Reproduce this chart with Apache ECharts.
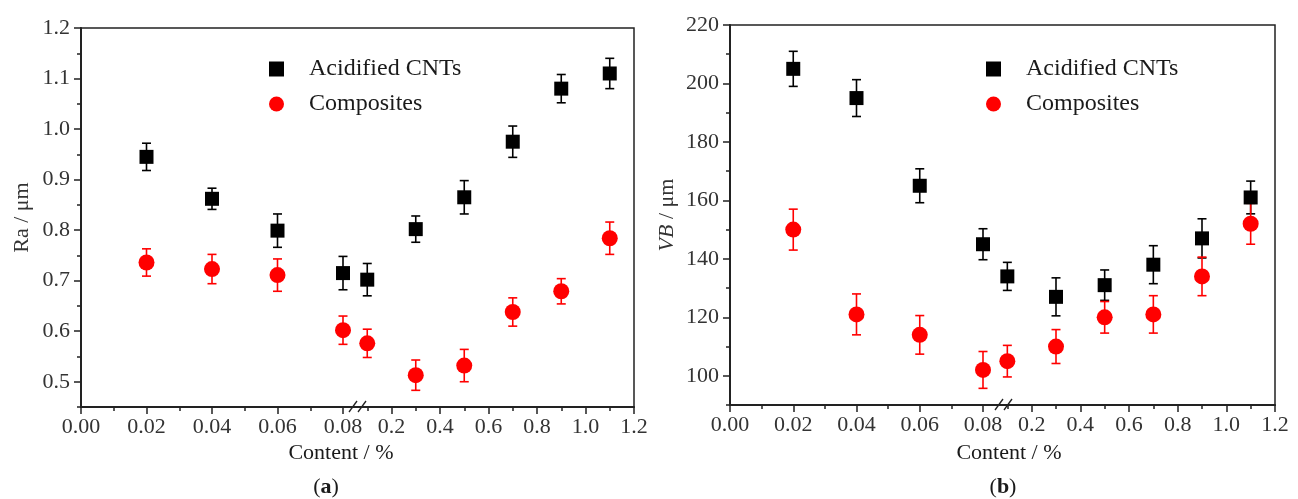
<!DOCTYPE html>
<html>
<head>
<meta charset="utf-8">
<title>Ra and VB vs content</title>
<script src="https://cdn.jsdelivr.net/npm/echarts@6/dist/echarts.min.js"></script>
<style>
    html, body { margin: 0; padding: 0; background: #fff; }
    #chart { width: 1298px; height: 499px; }
</style>
</head>
<body>
<div id="chart"></div>
<script>
// content in %, the axis is broken after 0.08
const content = [0.02, 0.04, 0.06, 0.08, 0.1, 0.3, 0.5, 0.7, 0.9, 1.1]

// (a) surface roughness Ra / um
const raCnt = [0.945, 0.862, 0.799, 0.715, 0.702, 0.802, 0.865, 0.975, 1.080, 1.110]
const raCntErr = [0.027, 0.021, 0.033, 0.033, 0.032, 0.026, 0.033, 0.031, 0.028, 0.030]
const raComp = [0.736, 0.723, 0.711, 0.602, 0.576, 0.513, 0.532, 0.638, 0.679, 0.784]
const raCompErr = [0.027, 0.029, 0.032, 0.028, 0.028, 0.030, 0.032, 0.028, 0.025, 0.032]

// (b) flank wear VB / um
const vbCnt = [205, 195, 165, 145, 134, 127, 131, 138, 147, 161]
const vbCntErr = [6, 6.3, 5.8, 5.3, 4.8, 6.5, 5.2, 6.5, 6.7, 5.6]
const vbComp = [150, 121, 114, 102, 105, 110, 120, 121, 134, 152]
const vbCompErr = [7, 7, 6.6, 6.3, 5.4, 5.8, 5.4, 6.4, 6.6, 7]

// tick labels
const raTicks = [0.5, 0.6, 0.7, 0.8, 0.9, 1.0, 1.1, 1.2]
const raMinor = [0.45, 0.55, 0.65, 0.75, 0.85, 0.95, 1.05, 1.15]
const vbTicks = [100, 120, 140, 160, 180, 200, 220]
const vbMinor = [90, 110, 130, 150, 170, 190, 210]

const seriesNames = ['Acidified CNTs', 'Composites']
const FONT = 'Liberation Serif'
const AXIS_COLOR = '#222'
const LABEL_COLOR = '#333'
const BREAK_X = 0.08

// pixel layout of the two panels
const panelA = { left: 81, seam: 343, right: 634, top: 28, bottom: 407, breakOff: 6 }
const panelB = { left: 730, seam: 983, right: 1275, top: 25, bottom: 405, breakOff: 12 }
const H = 499, W = 1298

const chart = echarts.init(document.getElementById('chart'))

function pairs(values, errs, low) {
    const out = []
    content.forEach((x, i) => {
        if ((x <= BREAK_X) === low) out.push([x, values[i], errs[i]])
    })
    return out
}

function renderErrorBar(params, api) {
    const x = api.value(0)
    const y = api.value(1)
    const e = api.value(2)
    const top = api.coord([x, y + e])
    const bot = api.coord([x, y - e])
    const cap = 4.5
    const style = { stroke: api.visual('color'), lineWidth: 1.6 }
    return {
        type: 'group',
        children: [
            { type: 'line', shape: { x1: top[0], y1: top[1], x2: bot[0], y2: bot[1] }, style: style },
            { type: 'line', shape: { x1: top[0] - cap, y1: top[1], x2: top[0] + cap, y2: top[1] }, style: style },
            { type: 'line', shape: { x1: bot[0] - cap, y1: bot[1], x2: bot[0] + cap, y2: bot[1] }, style: style }
        ]
    }
}

const tickLabel = { fontFamily: FONT, fontSize: 22, color: LABEL_COLOR }

function gridOf(p, from, to) {
    return { left: from, right: W - to, top: p.top, bottom: H - p.bottom }
}

function xLow(gridIndex) {
    return {
        type: 'value', gridIndex: gridIndex, min: 0, max: 0.08, interval: 0.02,
        axisLine: { lineStyle: { color: AXIS_COLOR, width: 2 } },
        axisTick: { inside: false, length: 7, lineStyle: { color: AXIS_COLOR, width: 1.5 } },
        minorTick: { show: true, splitNumber: 2, length: 4, lineStyle: { color: AXIS_COLOR, width: 1.5 } },
        axisLabel: Object.assign({ margin: 9, formatter: v => v.toFixed(2) }, tickLabel),
        splitLine: { show: false }
    }
}

function xHigh(gridIndex) {
    return {
        type: 'value', gridIndex: gridIndex, min: 0, max: 1.2, interval: 0.2,
        axisLine: { lineStyle: { color: AXIS_COLOR, width: 2 } },
        axisTick: { inside: false, length: 7, lineStyle: { color: AXIS_COLOR, width: 1.5 } },
        minorTick: { show: true, splitNumber: 2, length: 4, lineStyle: { color: AXIS_COLOR, width: 1.5 } },
        axisLabel: Object.assign({ margin: 9, formatter: v => (v === 0 ? '' : v.toFixed(1)) }, tickLabel),
        splitLine: { show: false }
    }
}

function yMain(gridIndex, min, max, ticks, digits, name, nameGap) {
    return {
        type: 'value', gridIndex: gridIndex, position: 'left', min: min, max: max,
        name: name, nameLocation: 'middle', nameGap: nameGap, nameRotate: 90,
        nameTextStyle: {
            fontFamily: FONT, fontSize: 22, color: LABEL_COLOR,
            rich: { i: { fontFamily: FONT, fontSize: 22, color: LABEL_COLOR, fontStyle: 'italic' } }
        },
        axisLine: { show: true, lineStyle: { color: AXIS_COLOR, width: 2 } },
        axisTick: { inside: false, length: 7, customValues: ticks, lineStyle: { color: AXIS_COLOR, width: 1.5 } },
        axisLabel: Object.assign({ margin: 11, customValues: ticks, formatter: v => v.toFixed(digits) }, tickLabel),
        splitLine: { show: false }
    }
}

// second left axis that only carries the short minor ticks
function yMinor(gridIndex, min, max, ticks) {
    return {
        type: 'value', gridIndex: gridIndex, position: 'left', offset: 0, min: min, max: max,
        axisLine: { show: false },
        axisTick: { inside: false, length: 4, customValues: ticks, lineStyle: { color: AXIS_COLOR, width: 1.5 } },
        axisLabel: { show: false },
        splitLine: { show: false }
    }
}

function yHidden(gridIndex, min, max) {
    return { type: 'value', gridIndex: gridIndex, min: min, max: max, show: false, splitLine: { show: false } }
}

function legendOf(x) {
    return {
        data: seriesNames, orient: 'vertical', left: x, top: 52, itemGap: 11,
        itemWidth: 15, itemHeight: 15,
        textStyle: { fontFamily: FONT, fontSize: 24, color: '#1a1a1a', padding: [0, 0, 0, 20] }
    }
}

// grids 0,1,2 for (a), 3,4,5 for (b); 2 and 5 only draw the frame
const grid = [
    gridOf(panelA, panelA.left, panelA.seam),
    gridOf(panelA, panelA.seam, panelA.right),
    Object.assign(gridOf(panelA, panelA.left, panelA.right), { show: true, borderColor: AXIS_COLOR, borderWidth: 1.5 }),
    gridOf(panelB, panelB.left, panelB.seam),
    gridOf(panelB, panelB.seam, panelB.right),
    Object.assign(gridOf(panelB, panelB.left, panelB.right), { show: true, borderColor: AXIS_COLOR, borderWidth: 1.5 })
]

const xAxis = [xLow(0), xHigh(1), xLow(3), xHigh(4)]
const yAxis = [
    yMain(0, 0.45, 1.2, raTicks, 1, 'Ra / μm', 48),
    yMinor(0, 0.45, 1.2, raMinor),
    yHidden(1, 0.45, 1.2),
    yMain(3, 90, 220, vbTicks, 0, '{i|VB} / μm', 52),
    yMinor(3, 90, 220, vbMinor),
    yHidden(4, 90, 220)
]

// [xAxisIndex, yAxisIndex, low segment?, cnt set, composite set]
const parts = [
    [0, 0, true, [raCnt, raCntErr], [raComp, raCompErr]],
    [1, 2, false, [raCnt, raCntErr], [raComp, raCompErr]],
    [2, 3, true, [vbCnt, vbCntErr], [vbComp, vbCompErr]],
    [3, 5, false, [vbCnt, vbCntErr], [vbComp, vbCompErr]]
]

const markStyles = [
    { symbol: 'rect', symbolSize: 14, color: '#000' },
    { symbol: 'circle', symbolSize: 16, color: '#ff0000' }
]

const scatterSeries = []
const errorSeries = []
parts.forEach(([xi, yi, low, cnt, comp]) => {
    [cnt, comp].forEach((set, k) => {
        const data = pairs(set[0], set[1], low)
        scatterSeries.push({
            name: seriesNames[k], type: 'scatter', xAxisIndex: xi, yAxisIndex: yi,
            symbol: markStyles[k].symbol, symbolSize: markStyles[k].symbolSize,
            itemStyle: { color: markStyles[k].color, opacity: 1 },
            z: 4, data: data
        })
        errorSeries.push({
            name: seriesNames[k], type: 'custom', xAxisIndex: xi, yAxisIndex: yi,
            renderItem: renderErrorBar, itemStyle: { color: markStyles[k].color },
            encode: { x: 0, y: 1 }, z: 3, data: data
        })
    })
})

function breakMarks(p) {
    const x0 = p.seam + p.breakOff
    const y = p.bottom
    const st = { stroke: AXIS_COLOR, lineWidth: 1.3 }
    return [
        { type: 'line', shape: { x1: x0, y1: y + 5, x2: x0 + 8, y2: y - 6 }, style: st, z: 10 },
        { type: 'line', shape: { x1: x0 + 9, y1: y + 5, x2: x0 + 17, y2: y - 6 }, style: st, z: 10 }
    ]
}

function textAt(x, y, text, rich) {
    return {
        type: 'text', x: x, y: y,
        style: {
            text: text, textAlign: 'center', textVerticalAlign: 'middle',
            fontFamily: FONT, fontSize: 22, fill: '#1a1a1a', rich: rich
        }
    }
}

const boldRich = { b: { fontFamily: FONT, fontSize: 22, fontWeight: 'bold', fill: '#1a1a1a' } }

chart.setOption({
    backgroundColor: '#fff',
    animation: false,
    grid: grid,
    xAxis: xAxis,
    yAxis: yAxis,
    legend: [legendOf(264), legendOf(981)],
    series: scatterSeries.concat(errorSeries),
    graphic: [].concat(
        breakMarks(panelA),
        breakMarks(panelB),
        [
            textAt(341, 453, 'Content / %'),
            textAt(1009, 453, 'Content / %'),
            textAt(326, 487, '({b|a})', boldRich),
            textAt(1003, 487, '({b|b})', boldRich)
        ]
    )
})
</script>
</body>
</html>
